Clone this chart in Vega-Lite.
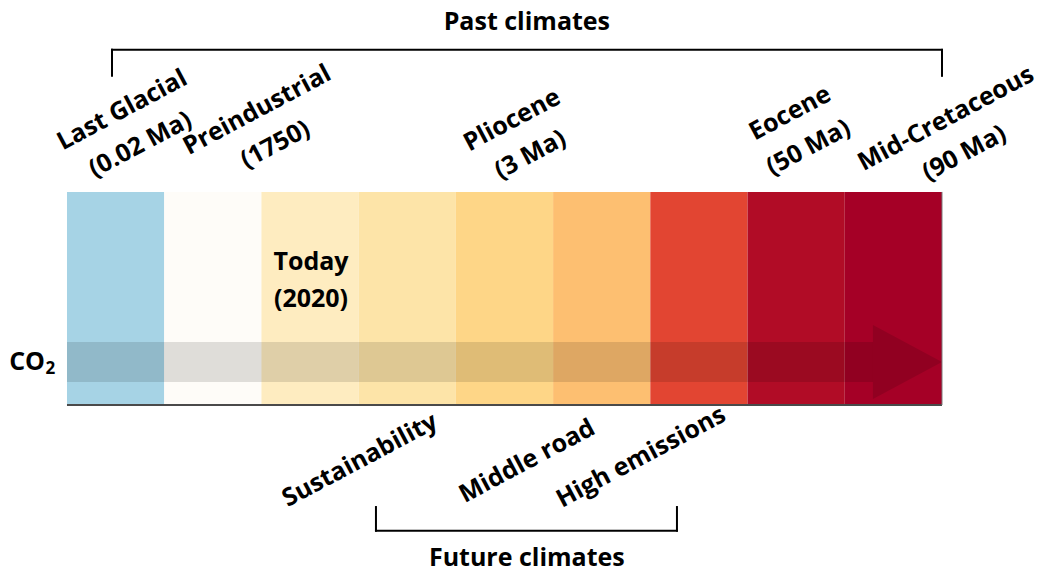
{
  "$schema": "https://vega.github.io/schema/vega-lite/v6.json",
  "width": 1043,
  "height": 575,
  "autosize": {"type": "none"},
  "padding": 0,
  "background": "white",
  "config": {"view": {"stroke": null}, "text": {"font": "Open Sans", "fontWeight": "bold", "color": "black"}},
  "layer": [
    {
      "data": {"values": [
        {"period": "Last Glacial", "start": 0, "end": 1},
        {"period": "Preindustrial", "start": 1, "end": 2},
        {"period": "Today", "start": 2, "end": 3},
        {"period": "Sustainability", "start": 3, "end": 4},
        {"period": "Pliocene", "start": 4, "end": 5},
        {"period": "Middle road", "start": 5, "end": 6},
        {"period": "High emissions", "start": 6, "end": 7},
        {"period": "Eocene", "start": 7, "end": 8},
        {"period": "Mid-Cretaceous", "start": 8, "end": 9}
      ]},
      "mark": {"type": "rect", "strokeWidth": 0},
      "encoding": {
        "x": {"field": "start", "type": "quantitative", "scale": {"domain": [-0.689, 10.039], "nice": false, "zero": false}, "axis": null},
        "x2": {"field": "end"},
        "y": {"datum": 0, "type": "quantitative", "scale": {"domain": [-0.798, 1.901], "nice": false, "zero": false}, "axis": null},
        "y2": {"datum": 1},
        "color": {"field": "period", "type": "nominal", "legend": null, "scale": {
          "domain": ["Last Glacial", "Preindustrial", "Today", "Sustainability", "Pliocene", "Middle road", "High emissions", "Eocene", "Mid-Cretaceous"],
          "range": ["#a6d3e5", "#fefcf8", "#feecc0", "#fde4a8", "#fed687", "#fdbf71", "#e24532", "#b10c26", "#a50026"]}}
      }
    },
    {
      "data": {"values": [{"start": 0, "end": 8.29, "lo": 0.108, "hi": 0.296}]},
      "mark": {"type": "rect", "color": "black", "opacity": 0.12, "strokeWidth": 0},
      "encoding": {
        "x": {"field": "start", "type": "quantitative"},
        "x2": {"field": "end"},
        "y": {"field": "lo", "type": "quantitative"},
        "y2": {"field": "hi"}
      }
    },
    {
      "data": {"values": [{"x": 8.29, "lo": 0.028, "hi": 0.376}, {"x": 9.0, "lo": 0.202, "hi": 0.202}]},
      "mark": {"type": "area", "color": "black", "opacity": 0.12, "orient": "vertical"},
      "encoding": {
        "x": {"field": "x", "type": "quantitative"},
        "y": {"field": "lo", "type": "quantitative"},
        "y2": {"field": "hi"}
      }
    },
    {
      "data": {"values": [
        {"x": 0, "x2": 9, "y": 0, "y2": 0}
      ]},
      "mark": {"type": "rule", "color": "#4a4a4a", "strokeWidth": 2},
      "encoding": {
        "x": {"field": "x", "type": "quantitative"},
        "x2": {"field": "x2"},
        "y": {"field": "y", "type": "quantitative"},
        "y2": {"field": "y2"}
      }
    },
    {
      "data": {"values": [
        {"x": 9, "x2": 9, "y": 0, "y2": 1}
      ]},
      "mark": {"type": "rule", "color": "#777777", "strokeWidth": 1},
      "encoding": {
        "x": {"field": "x", "type": "quantitative"},
        "x2": {"field": "x2"},
        "y": {"field": "y", "type": "quantitative"},
        "y2": {"field": "y2"}
      }
    },
    {
      "data": {"values": [
        {"x": 0.463, "x2": 9.0, "y": 1.667, "y2": 1.667},
        {"x": 0.463, "x2": 0.463, "y": 1.545, "y2": 1.667},
        {"x": 9.0, "x2": 9.0, "y": 1.545, "y2": 1.667},
        {"x": 3.178, "x2": 6.274, "y": -0.59, "y2": -0.59},
        {"x": 3.178, "x2": 3.178, "y": -0.59, "y2": -0.479},
        {"x": 6.274, "x2": 6.274, "y": -0.59, "y2": -0.479}
      ]},
      "mark": {"type": "rule", "color": "black", "strokeWidth": 2, "strokeCap": "square"},
      "encoding": {
        "x": {"field": "x", "type": "quantitative"},
        "x2": {"field": "x2"},
        "y": {"field": "y", "type": "quantitative"},
        "y2": {"field": "y2"}
      }
    },
    {
      "data": {"values": [
        {"label": "Last Glacial\n(0.02 Ma)", "x": 0.566, "y": 1.385},
        {"label": "Preindustrial\n(1750)", "x": 1.954, "y": 1.385},
        {"label": "Pliocene\n(3 Ma)", "x": 4.577, "y": 1.338},
        {"label": "Eocene\n(50 Ma)", "x": 7.437, "y": 1.371},
        {"label": "Mid-Cretaceous\n(90 Ma)", "x": 9.04, "y": 1.345},
        {"label": "Sustainability", "x": 3.012, "y": -0.258},
        {"label": "Middle road", "x": 4.732, "y": -0.263},
        {"label": "High emissions", "x": 5.904, "y": -0.244}
      ]},
      "mark": {"type": "text", "angle": -28, "align": "center", "baseline": "middle", "fontSize": 25, "lineHeight": 39, "lineBreak": "\n"},
      "encoding": {
        "x": {"field": "x", "type": "quantitative"},
        "y": {"field": "y", "type": "quantitative"},
        "text": {"field": "label"}
      }
    },
    {
      "data": {"values": [
        {"label": "Past climates", "x": 4.73, "y": 1.798},
        {"label": "Future climates", "x": 4.73, "y": -0.718},
        {"label": "Today\n(2020)", "x": 2.51, "y": 0.671}
      ]},
      "mark": {"type": "text", "align": "center", "baseline": "middle", "fontSize": 25, "lineHeight": 37, "lineBreak": "\n"},
      "encoding": {
        "x": {"field": "x", "type": "quantitative"},
        "y": {"field": "y", "type": "quantitative"},
        "text": {"field": "label"}
      }
    },
    {
      "data": {"values": [{"label": "CO", "x": -0.226, "y": 0.202}]},
      "mark": {"type": "text", "align": "right", "baseline": "middle", "fontSize": 25},
      "encoding": {
        "x": {"field": "x", "type": "quantitative"},
        "y": {"field": "y", "type": "quantitative"},
        "text": {"field": "label"}
      }
    },
    {
      "data": {"values": [{"label": "2", "x": -0.222, "y": 0.17}]},
      "mark": {"type": "text", "align": "left", "baseline": "middle", "fontSize": 17},
      "encoding": {
        "x": {"field": "x", "type": "quantitative"},
        "y": {"field": "y", "type": "quantitative"},
        "text": {"field": "label"}
      }
    }
  ]
}
